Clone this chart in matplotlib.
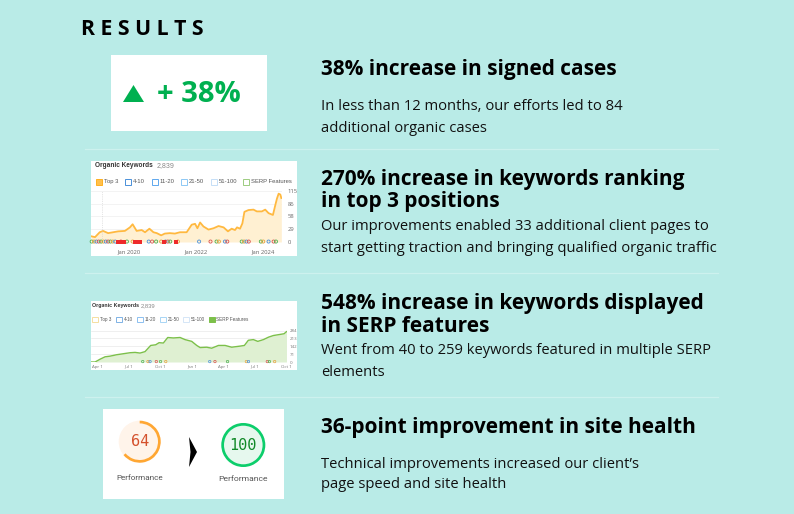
import numpy as np
import matplotlib
matplotlib.use("Agg")
import matplotlib.pyplot as plt
from matplotlib.patches import Rectangle, Circle, Wedge, Polygon

plt.rcParams['font.family'] = ['Open Sans', 'DejaVu Sans']

BG = '#b9ebe7'
GREEN = '#00b050'

# text rows
headings = [
    ("38% increase in signed cases", 70),
    ("270% increase in keywords ranking", 180),
    ("in top 3 positions", 202),
    ("548% increase in keywords displayed", 304),
    ("in SERP features", 326),
    ("36-point improvement in site health", 428),
]
body = [
    ("In less than 12 months, our efforts led to 84", 107),
    ("additional organic cases", 128),
    ("Our improvements enabled 33 additional client pages to", 227),
    ("start getting traction and bringing qualified organic traffic", 248),
    ("Went from 40 to 259 keywords featured in multiple SERP", 351),
    ("elements", 372),
    ("Technical improvements increased our client\u2019s", 464),
    ("page speed and site health", 485),
]
divider_y = [149, 273, 397]

# top 3 keywords chart
top3_years = [2018.86, 2018.98, 2019.12, 2019.22, 2019.37, 2019.52, 2019.67, 2019.87, 2020.02, 2020.10,
              2020.22, 2020.37, 2020.47, 2020.60, 2020.72, 2020.82, 2020.95, 2021.06, 2021.21, 2021.36,
              2021.51, 2021.71, 2021.86, 2021.96, 2022.03, 2022.11, 2022.21, 2022.36, 2022.51, 2022.66,
              2022.81, 2022.94, 2023.05, 2023.15, 2023.21, 2023.30, 2023.37, 2023.43, 2023.55, 2023.70,
              2023.80, 2023.95, 2024.05, 2024.15, 2024.28, 2024.35, 2024.40, 2024.45, 2024.50, 2024.53]
top3_vals = [13, 11, 22, 25, 20, 22, 24, 25, 33, 40,
             25, 27, 22, 30, 22, 20, 15, 19, 20, 19,
             22, 22, 39, 41, 31, 44, 35, 28, 31, 36,
             33, 24, 30, 27, 33, 30, 42, 68, 72, 73,
             69, 69, 73, 65, 61, 83, 98, 109, 107, 99]
top3_ticks = [0, 29, 58, 86, 115]
top3_xticks = [2020, 2022, 2024]
top3_xlabels = ['Jan 2020', 'Jan 2022', 'Jan 2024']
top3_g = [2018.88, 2018.95, 2019.02, 2019.09, 2019.16, 2019.23, 2019.30, 2019.37, 2019.44, 2019.51, 2019.58,
          2019.75, 2019.93, 2020.10, 2020.58, 2020.68, 2020.80, 2020.95, 2021.08, 2021.15, 2021.22, 2021.45,
          2022.08, 2022.42, 2022.60, 2022.67, 2022.85, 2022.92, 2023.35, 2023.42, 2023.49, 2023.56, 2023.92,
          2023.99, 2024.15, 2024.30, 2024.37]
top3_flags = [2019.65, 2019.72, 2019.85, 2020.17, 2020.24, 2020.31, 2021.02, 2021.38]

# serp features chart
serp_months = [-0.64, -0.25, 0.22, 0.70, 1.18, 1.82, 2.45, 3.09, 3.57, 4.04, 4.52, 5.06, 5.54, 5.86, 6.27,
               6.69, 7.23, 7.87, 8.34, 8.98, 9.46, 9.78, 10.41, 10.89, 11.53, 12.17, 12.80, 13.60, 14.01,
               14.39, 14.87, 15.29, 15.83, 16.31, 16.78, 17.42, 17.80, 18.03]
serp_vals = [0, 0, 25, 47, 53, 66, 75, 84, 87, 81, 94, 150, 156, 175, 172,
             222, 218, 222, 203, 187, 150, 131, 134, 125, 150, 150, 134, 144, 150,
             197, 203, 187, 203, 225, 240, 250, 256, 275]
serp_ticks = [0, 71, 142, 213, 284]
serp_xticks = [0, 3, 6, 9, 12, 15, 18]
serp_xlabels = ['Apr 1', 'Jul 1', 'Oct 1', 'Jan 1', 'Apr 1', 'Jul 1', 'Oct 1']
serp_g = [4.3, 4.8, 5.0, 5.6, 6.0, 6.5, 10.7, 11.2, 12.4, 14.2, 14.4, 16.2, 16.4, 16.9]

# page speed scores
score_before = 64
score_after = 100

fig = plt.figure(figsize=(7.94, 5.14), dpi=100, facecolor=BG)
ax = fig.add_axes([0, 0, 1, 1])
ax.set_xlim(0, 794)
ax.set_ylim(514, 0)
ax.axis('off')


def panel(x0, y0, x1, y1):
    ax.add_patch(Rectangle((x0, y0), x1 - x0, y1 - y0, fc='white', ec='none'))


def inset(x0, y0, x1, y1):
    a = fig.add_axes([x0 / 794, 1 - y1 / 514, (x1 - x0) / 794, (y1 - y0) / 514])
    a.patch.set_alpha(0)
    for s in a.spines.values():
        s.set_visible(False)
    return a


def legend_row(x_list, y, labels, colors, size, box=6):
    for x, lab, c in zip(x_list, labels, colors):
        ax.add_patch(Rectangle((x, y - box / 2), box, box, fc='white', ec=c, lw=0.7))
        ax.text(x + box + 2, y, lab, fontsize=size, color='#555555', va='center', family='Liberation Sans')


def gauge(cx, cy, r, score, ring, fill, txt, label, label_y, label_size):
    ax.add_patch(Circle((cx, cy), r, fc=fill, ec='none'))
    # y axis is flipped, so angles run clockwise from 12 o'clock here
    ax.add_patch(Wedge((cx, cy), r, -90, -90 + 3.6 * score, width=2.7, fc=ring, ec='none'))
    ax.text(cx, cy, str(score), fontsize=11, color=txt, ha='center', va='center', family='DejaVu Sans Mono')
    ax.text(cx, label_y, label, fontsize=label_size, color='#555555', ha='center', va='center', family='Roboto')


# title
ax.text(81, 29.5, "R E S U L T S", fontsize=15.3, fontweight='bold', color='black', va='center')

# dividers
for y in divider_y:
    ax.plot([85, 718], [y, y], color='#cdf1ee', lw=0.9)

for txt, y in headings:
    ax.text(321, y, txt, fontsize=15, fontweight='bold', color='black', va='center')
for txt, y in body:
    ax.text(321, y, txt, fontsize=10.6, color='#111111', va='center')

# +38% box
panel(111, 55, 267, 131)
ax.add_patch(Polygon([[123, 102], [144, 102], [133.5, 85]], fc=GREEN, ec='none'))
ax.text(157, 94.5, "+ 38%", fontsize=21, fontweight='bold', color=GREEN, va='center')

# top 3 chart
panel(91, 161, 297, 256)
ax.text(95, 165.5, "Organic Keywords", fontsize=4.7, fontweight='bold', color='#333333', va='center',
        family='Liberation Sans')
ax.text(157, 165.5, "2,839", fontsize=5, color='#888888', va='center', family='Liberation Sans')
ax.add_patch(Rectangle((96, 178.5), 6, 6, fc='#ffc04d', ec='#ffb020', lw=0.7))
ax.text(104, 181.5, "Top 3", fontsize=4.2, color='#555555', va='center', family='Liberation Sans')
legend_row([125, 152, 181, 211, 243], 181.5, ['4-10', '11-20', '21-50', '51-100', 'SERP Features'],
           ['#4a90d9', '#5fa8ee', '#8cc8f5', '#c5dff7', '#9ccc80'], 4.2)

a1 = inset(91, 191, 282, 242)
a1.fill_between(top3_years, top3_vals, color='#fff0d2', lw=0)
a1.plot(top3_years, top3_vals, color='#ffb940', lw=1.3)
a1.set_xlim(2018.86, 2024.55)
a1.set_ylim(0, 115)
a1.set_yticks(top3_ticks)
a1.set_xticks(top3_xticks)
a1.set_xticklabels(top3_xlabels)
a1.yaxis.tick_right()
a1.tick_params(axis='y', length=0, labelsize=4.2, labelcolor='#666666', pad=4)
a1.tick_params(axis='x', length=0, labelsize=4.2, labelcolor='#666666', pad=5.5)
a1.grid(axis='y', color='#eeeeee', lw=0.5)
a1.set_axisbelow(True)
a1.axvline(2019.2, color='#cccccc', lw=0.5, ls=':')
g_cols = ['#4caf50', '#e8a33d', '#4a90d9', '#d9534f']
a1.scatter(top3_g, [1] * len(top3_g), s=5, facecolors='none', linewidths=0.6,
           edgecolors=[g_cols[i % 4] for i in range(len(top3_g))], clip_on=False, zorder=4)
a1.scatter(top3_flags, [1] * len(top3_flags), s=6, marker='s', color='#ee2a2a', lw=0, clip_on=False, zorder=5)

# serp chart
panel(91, 301, 297, 370)
ax.text(92, 305.5, "Organic Keywords", fontsize=3.8, fontweight='bold', color='#333333', va='center',
        family='Liberation Sans')
ax.text(141, 305.5, "2,839", fontsize=4.2, color='#888888', va='center', family='Liberation Sans')
legend_row([92, 116, 137, 160, 183], 319.5, ['Top 3', '4-10', '11-20', '21-50', '51-100'],
           ['#f5dfa0', '#7fb2e5', '#8cc0f0', '#a8d5f5', '#d5e6f7'], 3.3, box=5.5)
ax.add_patch(Rectangle((209, 316.7), 5.5, 5.5, fc='#7cc04a', ec='#7cc04a', lw=0.7))
ax.text(216, 319.5, "SERP Features", fontsize=3.3, color='#555555', va='center', family='Liberation Sans')

a2 = inset(91, 330, 287, 362)
a2.fill_between(serp_months, serp_vals, color='#dff0d2', lw=0)
a2.plot(serp_months, serp_vals, color='#7cc04a', lw=1.0)
a2.set_xlim(-0.64, 18.08)
a2.set_ylim(0, 290)
a2.set_yticks(serp_ticks)
a2.set_xticks(serp_xticks)
a2.set_xticklabels(serp_xlabels)
a2.yaxis.tick_right()
a2.tick_params(length=0, labelsize=3.2, labelcolor='#777777', pad=2)
a2.grid(axis='y', color='#e4e4e4', lw=0.4)
a2.set_axisbelow(True)
a2.scatter(serp_g, [4] * len(serp_g), s=3, facecolors='none', linewidths=0.5,
           edgecolors=[g_cols[i % 4] for i in range(len(serp_g))], clip_on=False, zorder=4)

# performance box
panel(103, 409, 284, 499)
gauge(139.7, 441.7, 21, score_before, '#ffa733', '#fff4ea', '#d4512c', 'Performance', 478.5, 5.9)
gauge(243.3, 445, 22, score_after, '#0cce6b', '#e6f8ee', '#118a28', 'Performance', 479, 6.1)
ax.add_patch(Polygon([[189, 437], [197, 452], [189, 467], [190.5, 452]], fc='black', ec='none'))

fig.savefig('out.png', dpi=100, facecolor=BG)
